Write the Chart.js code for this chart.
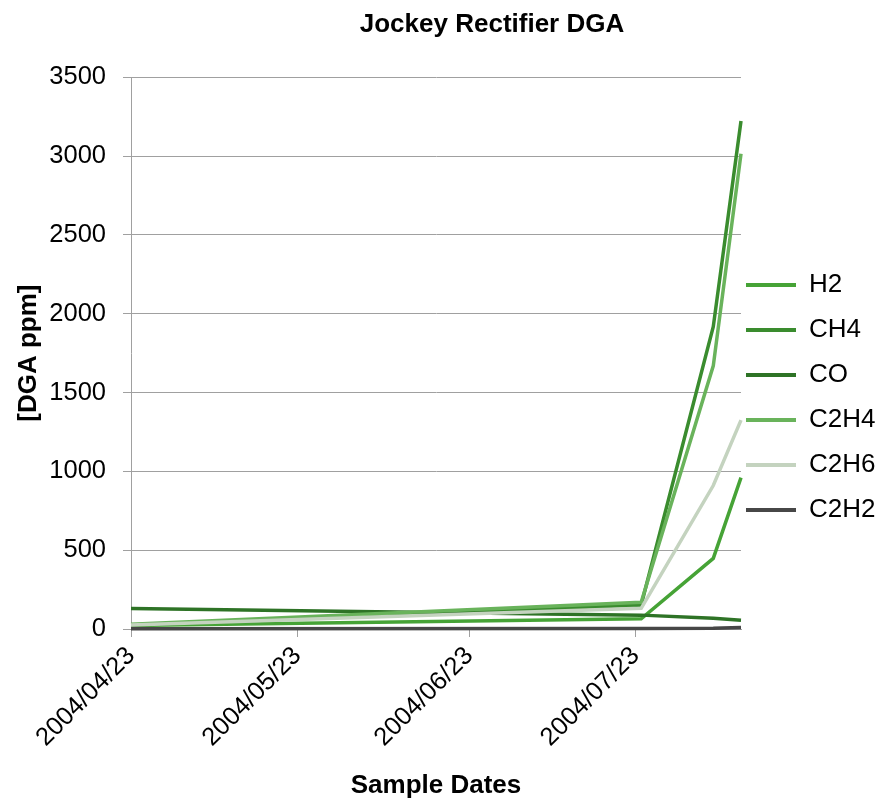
<!DOCTYPE html>
<html><head><meta charset="utf-8">
<script src="https://cdn.jsdelivr.net/npm/chart.js@4.4.1/dist/chart.umd.min.js"></script>
<style>html,body{margin:0;padding:0;background:#fff;}canvas{display:block;}</style>
</head><body>
<canvas id="c" width="876" height="800"></canvas>
<script>
// ---- data ----
const sampleDates = ['2004/04/23', '2004/07/24', '2004/08/06', '2004/08/11'];
const tickLabels = ['2004/04/23', '2004/05/23', '2004/06/23', '2004/07/23'];
const seriesNames = ['H2', 'CH4', 'CO', 'C2H4', 'C2H6', 'C2H2'];
const h2   = [22, 65, 448, 960];
const ch4  = [24, 152, 1918, 3222];
const co   = [130, 88, 68, 55];
const c2h4 = [30, 170, 1669, 3014];
const c2h6 = [26, 131, 910, 1325];
const c2h2 = [2, 3, 5, 10];
const yMin = 0, yMax = 3500, yStep = 500;

// ---- styles ----
const colors = ['#46a336', '#3a8c2e', '#2e7326', '#69b35b', '#c4d3bf', '#474747'];
const FONT = "'Liberation Sans', Arial, sans-serif";

function toTime(s) { const p = s.split('/').map(Number); return Date.UTC(p[0], p[1] - 1, p[2]); }
function fmt(v) {
  const d = new Date(v);
  const mm = String(d.getUTCMonth() + 1).padStart(2, '0');
  const dd = String(d.getUTCDate()).padStart(2, '0');
  return d.getUTCFullYear() + '/' + mm + '/' + dd;
}

const values = [h2, ch4, co, c2h4, c2h6, c2h2];
const datasets = seriesNames.map((name, i) => ({
  label: name,
  data: sampleDates.map((d, j) => ({ x: toTime(d), y: values[i][j] })),
  borderColor: colors[i],
  backgroundColor: colors[i],
  borderWidth: 3.5,
  pointRadius: 0,
  tension: 0,
  clip: 4,
  order: seriesNames.length - i
}));

const shiftTitle = {
  id: 'shiftTitle',
  afterLayout(chart) {
    const t = chart.titleBlock;
    if (t) { t.left += 54; t.right += 54; }
  }
};

Chart.defaults.font.family = FONT;
Chart.defaults.color = '#000';

new Chart(document.getElementById('c'), {
  type: 'line',
  data: { datasets },
  plugins: [shiftTitle],
  options: {
    responsive: false,
    devicePixelRatio: 1,
    animation: false,
    layout: { padding: { top: 9, left: 0, right: 0, bottom: 0 } },
    plugins: {
      tooltip: { enabled: false },
      title: {
        display: true,
        text: 'Jockey Rectifier DGA',
        color: '#000',
        font: { family: FONT, size: 26, weight: 'bold' },
        padding: { top: 0, bottom: 37 }
      },
      legend: {
        position: 'right',
        maxWidth: 135,
        labels: {
          boxWidth: 50,
          boxHeight: 4,
          padding: 5,
          color: '#000',
          font: { family: FONT, size: 26, lineHeight: '40px' },
          generateLabels(chart) {
            return chart.data.datasets.map((ds, i) => ({
              text: [ds.label],
              fillStyle: ds.borderColor,
              strokeStyle: ds.borderColor,
              lineWidth: 0,
              hidden: false,
              datasetIndex: i,
              fontColor: '#000'
            }));
          }
        }
      }
    },
    scales: {
      x: {
        type: 'linear',
        min: toTime(sampleDates[0]),
        max: toTime(sampleDates[sampleDates.length - 1]),
        afterBuildTicks(scale) { scale.ticks = tickLabels.map(l => ({ value: toTime(l) })); },
        afterFit(scale) { scale.height = 171; },
        ticks: {
          autoSkip: false,
          maxRotation: 45,
          minRotation: 45,
          padding: 4,
          color: '#000',
          font: { family: FONT, size: 25.5 },
          callback: (v) => fmt(v)
        },
        grid: { drawOnChartArea: false, drawTicks: true, tickLength: 8, color: '#a0a0a0' },
        border: { color: '#a0a0a0' },
        title: {
          display: true,
          text: 'Sample Dates',
          color: '#000',
          font: { family: FONT, size: 26, weight: 'bold', lineHeight: 1.1 },
          padding: { top: 0, bottom: 0 }
        }
      },
      y: {
        min: yMin,
        max: yMax,
        afterFit(scale) { scale.width = 131; },
        ticks: {
          stepSize: yStep,
          padding: 17,
          color: '#000',
          font: { family: FONT, size: 25.5 },
          callback: (v) => String(v)
        },
        grid: { color: '#a0a0a0', tickLength: 8, lineWidth: 1 },
        border: { color: '#a0a0a0' },
        title: {
          display: true,
          text: '[DGA ppm]',
          color: '#000',
          font: { family: FONT, size: 26, weight: 'bold' },
          padding: { top: 13, bottom: 0 }
        }
      }
    }
  }
});
</script>
</body></html>
